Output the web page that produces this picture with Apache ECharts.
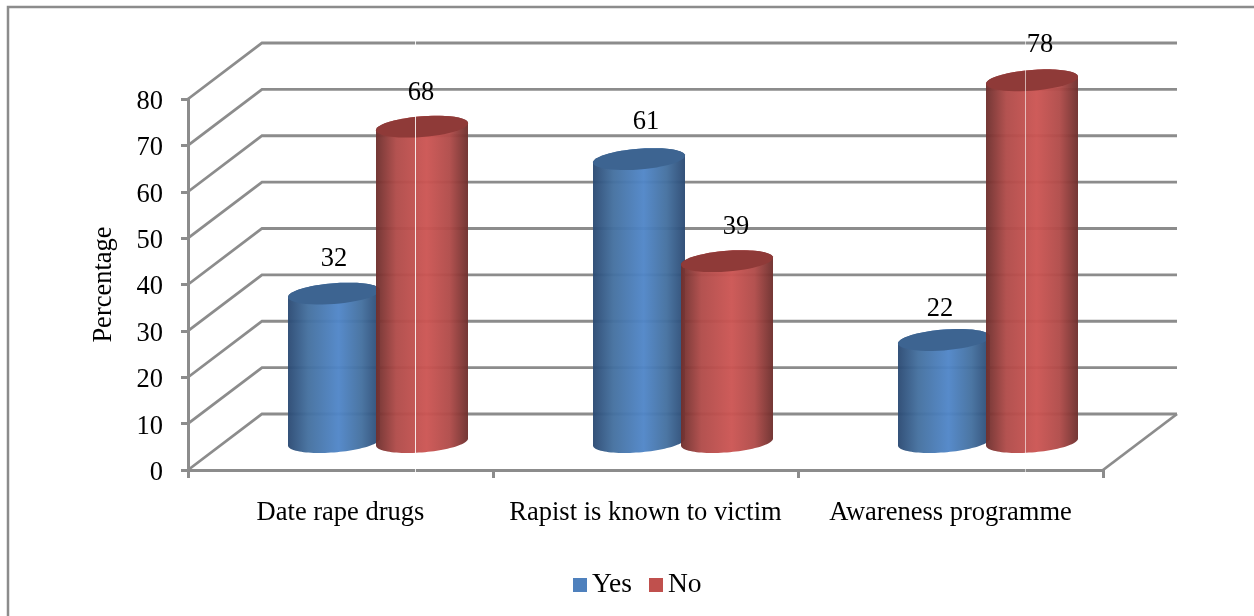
<!DOCTYPE html>
<html>
<head>
<meta charset="utf-8">
<script src="https://cdn.jsdelivr.net/npm/echarts@6/dist/echarts.min.js"></script>
<style>html,body{margin:0;padding:0;background:#fff}#chart{width:1254px;height:616px}</style>
</head>
<body>
<div id="chart"></div>
<script>
// Survey responses, percent
const categories = ['Date rape drugs', 'Rapist is known to victim', 'Awareness programme'];
const yesValues = [32, 61, 22];
const noValues = [68, 39, 78];
const yTicks = [0, 10, 20, 30, 40, 50, 60, 70, 80];

// Pseudo-3D projection of the chart box
const DEPTH_X = 74, DEPTH_Y = -56;
const BAR_DEPTH_X = 35, BAR_DEPTH_Y = -28;
const RX = 46, RY = 10.4, TILT = 3.5;
const FONT = '"Liberation Serif", "Times New Roman", serif';
const FONT_SIZE = 26.5;
const GRID_COLOR = '#8c8c8c';

// Hand-placed label nudges per series and category
const yesLabelShift = [[0, 1], [7, -1], [-4, 5]];
const noLabelShift = [[-1, 2], [9, 2], [8, 1]];

const chart = echarts.init(document.getElementById('chart'));

function ellipsePoints(cx, cy, from, to) {
  const pts = [];
  const steps = 48;
  for (let i = 0; i <= steps; i++) {
    const t = from + (to - from) * i / steps;
    pts.push([cx + RX * Math.cos(t), cy + RY * Math.sin(t) - TILT * Math.cos(t)]);
  }
  return pts;
}

function sideGradient(edge, mid, peak) {
  return new echarts.graphic.LinearGradient(0, 0, 1, 0, [
    { offset: 0, color: edge },
    { offset: 0.22, color: mid },
    { offset: 0.55, color: peak },
    { offset: 0.8, color: mid },
    { offset: 1, color: edge }
  ]);
}

function cylinderSeries(name, values, barShift, labelShift, colors, z) {
  return {
    type: 'custom',
    name: name,
    z: z,
    silent: true,
    itemStyle: { color: colors.legend },
    encode: { x: 0, y: 1 },
    data: values.map((v, i) => [i, v]),
    renderItem(params, api) {
      const i = api.value(0), v = api.value(1);
      const top = api.coord([i, v]);
      const base = api.coord([i, 0]);
      const cx = top[0] + BAR_DEPTH_X + barShift;
      const topY = top[1] + BAR_DEPTH_Y;
      const baseY = base[1] + BAR_DEPTH_Y;
      const body = ellipsePoints(cx, topY, Math.PI, 2 * Math.PI)
        .concat(ellipsePoints(cx, baseY, 0, Math.PI));
      const shift = labelShift[params.dataIndex];
      return {
        type: 'group',
        children: [
          { type: 'polygon', shape: { points: body },
            style: { fill: sideGradient(colors.edge, colors.mid, colors.peak), opacity: 0.96 } },
          { type: 'polygon', shape: { points: ellipsePoints(cx, topY, 0, 2 * Math.PI) },
            style: { fill: colors.top } },
          { type: 'text', z2: 10,
            style: { x: cx + shift[0], y: topY - 36 + shift[1], text: String(v),
              fill: '#000', font: FONT_SIZE + 'px ' + FONT, align: 'center', verticalAlign: 'middle' } }
        ]
      };
    }
  };
}

// Thin light seams crossing the box and the tall columns
function seam(x, y1, y2, alpha) {
  return { type: 'line', z: 50, silent: true, shape: { x1: x, y1: y1, x2: x, y2: y2 },
    style: { stroke: 'rgba(255,255,255,' + alpha + ')', lineWidth: 1 } };
}

const option = {
  animation: false,
  backgroundColor: '#fff',
  grid: { left: 188, top: 99, width: 915, height: 371 },
  legend: {
    data: ['Yes', 'No'],
    left: 568, top: 566,
    itemWidth: 14, itemHeight: 14, itemGap: 17,
    icon: 'rect',
    textStyle: { fontFamily: FONT, fontSize: 27.5, color: '#000' }
  },
  xAxis: {
    type: 'category',
    data: categories,
    axisLine: { lineStyle: { color: GRID_COLOR, width: 2.8 } },
    axisTick: { show: true, interval: 0, alignWithLabel: false, length: 8, lineStyle: { color: GRID_COLOR, width: 3 } },
    axisLabel: { interval: 0, margin: 30, fontFamily: FONT, fontSize: FONT_SIZE, color: '#000' }
  },
  yAxis: {
    type: 'value',
    min: 0, max: 80, interval: 10,
    name: 'Percentage',
    nameLocation: 'middle',
    nameGap: 70,
    nameTextStyle: { fontFamily: FONT, fontSize: FONT_SIZE, color: '#000' },
    axisLine: { show: true, lineStyle: { color: GRID_COLOR, width: 3 } },
    axisTick: { show: true, length: 7, lineStyle: { color: GRID_COLOR, width: 3 } },
    axisLabel: {
      margin: 25,
      formatter: '{n|{value}}',
      rich: { n: { fontFamily: FONT, fontSize: FONT_SIZE, color: '#000', padding: [6, 0, 0, 0] } }
    },
    splitLine: { show: false }
  },
  graphic: [
    // Outer chart frame, open past the right and bottom edges
    { type: 'rect', z: -1, silent: true, shape: { x: 8, y: 7, width: 1400, height: 800 },
      style: { fill: 'none', stroke: '#8c8c8c', lineWidth: 2.5 } },
    seam(415.5, 41, 45, 0.85),
    seam(415.5, 116, 472, 0.85),
    seam(1025.5, 41, 45, 0.6),
    seam(1025.5, 69, 472, 0.6)
  ],
  series: [
    {
      // Side wall, back wall and floor edge of the box
      type: 'custom',
      z: 1,
      silent: true,
      encode: { x: 0, y: 1 },
      data: yTicks.map(v => [0, v]),
      renderItem(params, api) {
        const box = params.coordSys;
        const y = api.coord([0, api.value(1)])[1];
        const x0 = box.x, x1 = box.x + box.width;
        const line = { stroke: GRID_COLOR, lineWidth: 2.8, fill: 'none' };
        const children = [
          { type: 'polyline',
            shape: { points: [[x0, y], [x0 + DEPTH_X, y + DEPTH_Y], [x1 + DEPTH_X, y + DEPTH_Y]] },
            style: line }
        ];
        if (api.value(1) === 0) {
          children.push({ type: 'line',
            shape: { x1: x1, y1: y, x2: x1 + DEPTH_X, y2: y + DEPTH_Y }, style: line });
        }
        return { type: 'group', children };
      }
    },
    cylinderSeries('Yes', yesValues, -41.5, yesLabelShift,
      { legend: '#4f81bd', edge: '#2b4a73', mid: '#44709f', peak: '#5086c8', top: '#3d6491' }, 3),
    cylinderSeries('No', noValues, 46.5, noLabelShift,
      { legend: '#c0504d', edge: '#6e2f2d', mid: '#b04b49', peak: '#cc5553', top: '#8f3a38' }, 4)
  ]
};

chart.setOption(option);
</script>
</body>
</html>
